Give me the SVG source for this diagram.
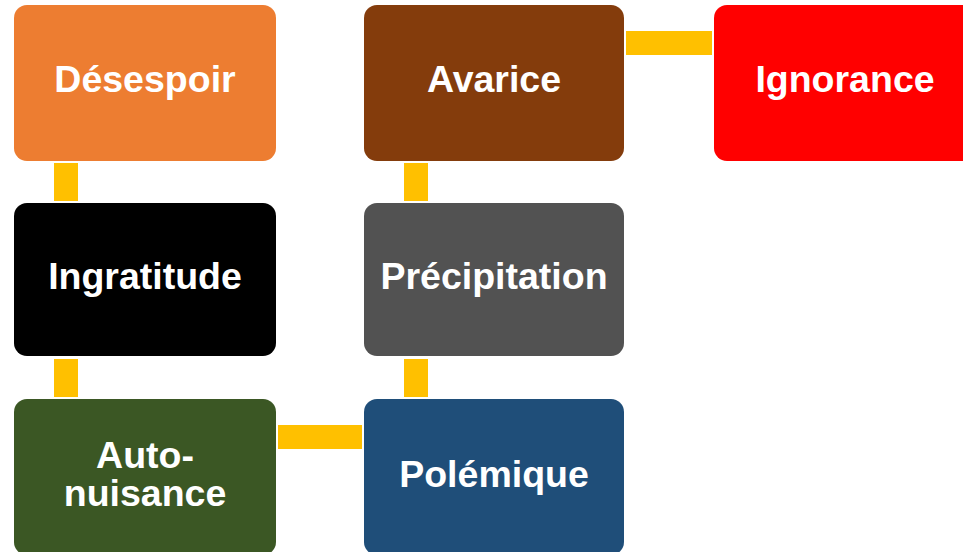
<svg xmlns="http://www.w3.org/2000/svg" width="963" height="552" viewBox="0 0 963 552">
<style>
.box{stroke:none}
.lbl{font-family:"Liberation Sans",Arial,sans-serif;font-weight:bold;font-size:37.5px;fill:#FFFFFF;text-anchor:middle}
.conn{fill:#FFC000}
</style>
<rect width="963" height="552" fill="#FFFFFF"/>
<g id="connectors">
<rect class="conn" x="54" y="163" width="24" height="38"/>
<rect class="conn" x="54" y="359" width="24" height="38"/>
<rect class="conn" x="404" y="163" width="24" height="38"/>
<rect class="conn" x="404" y="359" width="24" height="38"/>
<rect class="conn" x="626" y="31" width="86" height="24"/>
<rect class="conn" x="278" y="425" width="84" height="24"/>
</g>
<g id="desespoir">
<rect class="box" x="14" y="5" width="262" height="156" rx="13" fill="#ED7D31"/>
<text class="lbl" x="145" y="92">Désespoir</text>
</g>
<g id="avarice">
<rect class="box" x="364" y="5" width="260" height="156" rx="13" fill="#843C0C"/>
<text class="lbl" x="494" y="92">Avarice</text>
</g>
<g id="ignorance">
<rect class="box" x="714" y="5" width="262" height="156" rx="13" fill="#FF0000"/>
<text class="lbl" x="845" y="92">Ignorance</text>
</g>
<g id="ingratitude">
<rect class="box" x="14" y="203" width="262" height="153" rx="13" fill="#000000"/>
<text class="lbl" x="145" y="289">Ingratitude</text>
</g>
<g id="precipitation">
<rect class="box" x="364" y="203" width="260" height="153" rx="13" fill="#525252"/>
<text class="lbl" x="494" y="289">Précipitation</text>
</g>
<g id="autonuisance">
<rect class="box" x="14" y="399" width="262" height="156" rx="13" fill="#3B5724"/>
<text class="lbl" x="145" y="468">Auto-</text>
<text class="lbl" x="145" y="506">nuisance</text>
</g>
<g id="polemique">
<rect class="box" x="364" y="399" width="260" height="156" rx="13" fill="#1F4E79"/>
<text class="lbl" x="494" y="487">Polémique</text>
</g>
</svg>
